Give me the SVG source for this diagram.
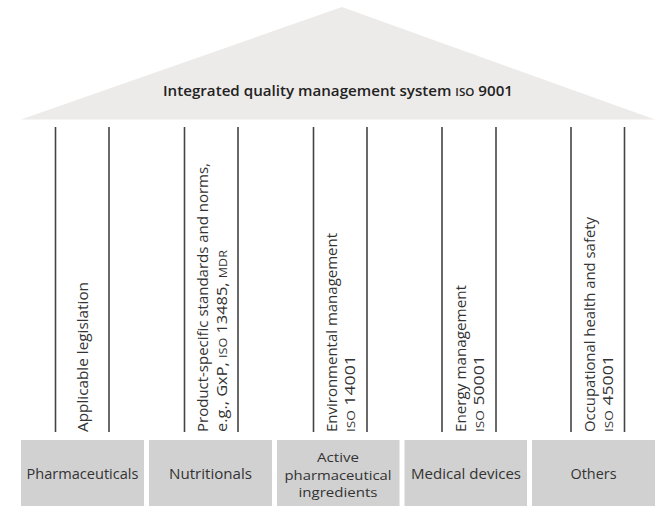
<svg xmlns="http://www.w3.org/2000/svg" width="659" height="506" viewBox="0 0 659 506">
<style>
text{font-family:"Open Sans","Noto Sans","Liberation Sans",sans-serif;fill:#333;font-size:15px}
.title{font-size:15px;font-weight:600;fill:#222}
.box{fill:#d1d1d1}
.col{stroke:#444;stroke-width:1.6;fill:none}
.sc{font-size:11.5px}
.mid{text-anchor:middle}
.sm{font-size:13.5px}
</style>
<rect width="659" height="506" fill="#fff"/>
<g id="roof">
<polygon points="21,119.5 342,7 655,119.5" fill="#edebe9"/>
<text class="title" x="163" y="96" textLength="350" lengthAdjust="spacingAndGlyphs">Integrated quality management system <tspan class="sc">ISO</tspan> 9001</text>
</g>
<g id="pillars">
<line class="col" x1="55.5" y1="127" x2="55.5" y2="432"/>
<line class="col" x1="109" y1="127" x2="109" y2="432"/>
<line class="col" x1="184.5" y1="127" x2="184.5" y2="432"/>
<line class="col" x1="238" y1="127" x2="238" y2="432"/>
<line class="col" x1="313.5" y1="127" x2="313.5" y2="432"/>
<line class="col" x1="367" y1="127" x2="367" y2="432"/>
<line class="col" x1="442" y1="127" x2="442" y2="432"/>
<line class="col" x1="496" y1="127" x2="496" y2="432"/>
<line class="col" x1="571" y1="127" x2="571" y2="432"/>
<line class="col" x1="624.5" y1="127" x2="624.5" y2="432"/>
</g>
<g id="pillar1">
<text transform="translate(88,432) rotate(-90)" textLength="150" lengthAdjust="spacingAndGlyphs">Applicable legislation</text>
</g>
<g id="pillar2">
<text transform="translate(208,432) rotate(-90)" textLength="269" lengthAdjust="spacingAndGlyphs">Product-specific standards and norms,</text>
<text transform="translate(227,432) rotate(-90)" textLength="182" lengthAdjust="spacingAndGlyphs">e.g., GxP, <tspan class="sc">ISO</tspan> 13485, <tspan class="sc">MDR</tspan></text>
</g>
<g id="pillar3">
<text transform="translate(337,432) rotate(-90)" textLength="199" lengthAdjust="spacingAndGlyphs">Environmental management</text>
<text transform="translate(355,432) rotate(-90)" textLength="77" lengthAdjust="spacingAndGlyphs"><tspan class="sc">ISO</tspan> 14001</text>
</g>
<g id="pillar4">
<text transform="translate(466,432) rotate(-90)" textLength="147" lengthAdjust="spacingAndGlyphs">Energy management</text>
<text transform="translate(484,432) rotate(-90)" textLength="77" lengthAdjust="spacingAndGlyphs"><tspan class="sc">ISO</tspan> 50001</text>
</g>
<g id="pillar5">
<text transform="translate(595,432) rotate(-90)" textLength="215" lengthAdjust="spacingAndGlyphs">Occupational health and safety</text>
<text transform="translate(613,432) rotate(-90)" textLength="77" lengthAdjust="spacingAndGlyphs"><tspan class="sc">ISO</tspan> 45001</text>
</g>
<g id="pharmaceuticals">
<rect class="box" x="21" y="440" width="123" height="66"/>
<text class="mid" x="82.5" y="479" textLength="112" lengthAdjust="spacingAndGlyphs">Pharmaceuticals</text>
</g>
<g id="nutritionals">
<rect class="box" x="149" y="440" width="123" height="66"/>
<text class="mid" x="210.5" y="479" textLength="83" lengthAdjust="spacingAndGlyphs">Nutritionals</text>
</g>
<g id="api">
<rect class="box" x="277" y="440" width="122.5" height="66"/>
<text class="mid sm" x="338" y="461.5" textLength="42" lengthAdjust="spacingAndGlyphs">Active</text>
<text class="mid sm" x="338" y="479.5" textLength="107" lengthAdjust="spacingAndGlyphs">pharmaceutical</text>
<text class="mid sm" x="338" y="497" textLength="79" lengthAdjust="spacingAndGlyphs">ingredients</text>
</g>
<g id="medical-devices">
<rect class="box" x="404.5" y="440" width="122.5" height="66"/>
<text class="mid" x="466" y="479" textLength="110" lengthAdjust="spacingAndGlyphs">Medical devices</text>
</g>
<g id="others">
<rect class="box" x="532" y="440" width="123" height="66"/>
<text class="mid" x="593.5" y="479" textLength="46" lengthAdjust="spacingAndGlyphs">Others</text>
</g>
</svg>
